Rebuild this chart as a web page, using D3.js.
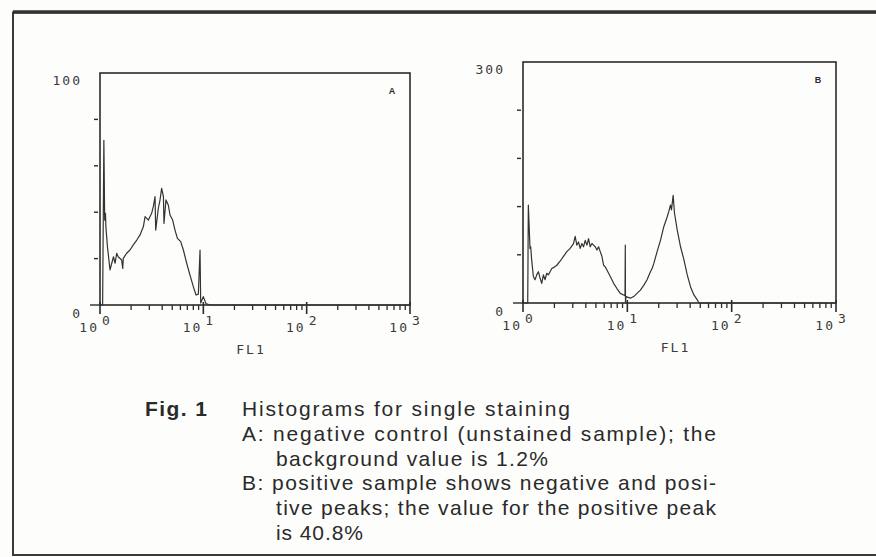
<!DOCTYPE html>
<html>
<head>
<meta charset="utf-8">
<script src="https://cdn.jsdelivr.net/npm/d3@7"></script>
<style>
  body { margin: 0; background: #fdfdfc; }
  svg { display: block; }
</style>
</head>
<body>
<svg id="fig" width="876" height="557"></svg>
<script>
// FL1 (log, 10^0..10^3) and cell counts
var flA = [1.0, 1.06, 1.09, 1.11, 1.13, 1.14, 1.18, 1.20, 1.25, 1.30, 1.35, 1.40, 1.45, 1.50,
  1.62, 1.66, 1.68, 1.81, 1.95, 2.10, 2.27, 2.44, 2.63, 2.73, 2.94, 3.16, 3.28, 3.41, 3.46,
  3.67, 3.81, 3.95, 4.11, 4.16, 4.35, 4.58, 4.76, 5.05, 5.32, 5.61, 6.04, 6.41, 6.90, 7.43,
  8.00, 8.50, 8.95, 9.29, 9.43, 10.0, 10.6, 11.6, 1000];
var countA = [0, 0, 71, 36.6, 39.5, 33.8, 25.1, 22.3, 15.1, 18.0, 20.8, 18.0, 22.3, 20.8,
  19.4, 15.8, 20.1, 22.3, 23.7, 25.9, 28.0, 30.2, 33.8, 38.1, 36.6, 39.5, 42.4, 46.7, 32.3,
  41.7, 45.3, 50.3, 46.7, 35.2, 45.3, 43.1, 38.8, 36.6, 32.3, 28.7, 27.3, 23.7, 18.0, 12.9,
  7.9, 4.3, 4.7, 23.7, 0.9, 3.6, 0.6, 0, 0];

var flB = [1.0, 1.11, 1.125, 1.167, 1.185, 1.21, 1.257, 1.305, 1.353, 1.404, 1.457, 1.512,
  1.569, 1.627, 1.689, 1.752, 1.818, 1.886, 1.957, 2.107, 2.269, 2.443, 2.630, 2.831, 3.048,
  3.162, 3.281, 3.405, 3.532, 3.666, 3.803, 3.947, 4.095, 4.249, 4.409, 4.575, 4.747, 4.925,
  5.110, 5.302, 5.501, 5.707, 5.922, 6.144, 6.375, 6.863, 7.388, 7.954, 8.563, 9.219, 9.50,
  9.56, 9.60, 9.70, 10.69, 11.51, 12.39, 13.34, 14.36, 15.46, 16.64, 17.27, 17.92, 19.29,
  20.77, 22.36, 24.07, 24.97, 25.91, 26.49, 27.49, 28.3, 30.06, 32.36, 34.84, 37.51, 40.37,
  43.46, 46.79, 48.55, 1000];
var countB = [0, 0, 122, 68, 70, 54, 33, 29, 35, 39, 31, 24.5,
  35, 29, 37, 35, 39, 43, 44, 47, 52, 58, 64, 68, 74,
  83, 72, 76, 68, 74, 70, 78, 72, 80, 70, 74, 72, 70,
  66, 70, 64, 58, 47, 45, 41, 33, 24.5, 18, 12, 10, 9,
  72, 0, 8, 6, 8, 12, 16, 22, 29, 39, 43, 49, 64,
  78, 95, 107, 114, 122, 116, 134, 112, 91, 70, 54, 35, 20,
  10, 4, 0, 0];

var yTicksA = [0, 20, 40, 60, 80, 100];
var yTicksB = [0, 60, 120, 180, 240, 300];
var panelNames = ['A', 'B'];
var axisTitle = 'FL1';

var captionHead = 'Fig. 1';
var captionLines = [
  'Histograms for single staining',
  'A: negative control (unstained sample); the',
  'background value is 1.2%',
  'B: positive sample shows negative and posi-',
  'tive peaks; the value for the positive peak',
  'is 40.8%'
];

var INK = '#2b2b2b';
var svg = d3.select('#fig');

// outer frame of the printed figure (open on the right)
svg.append('path')
  .attr('d', 'M876,12.5H13V555H876')
  .attr('fill', 'none')
  .attr('stroke', '#3a3a3a')
  .attr('stroke-width', 2);
svg.append('line')
  .attr('x1', 13).attr('x2', 876).attr('y1', 12).attr('y2', 12)
  .attr('stroke', '#333').attr('stroke-width', 3.5);

function drawPanel(box, fl, counts, yTicks, name) {
  var g = svg.append('g');
  var x = d3.scaleLog().domain([1, 1000]).range([box.left, box.right]);
  var y = d3.scaleLinear().domain([0, yTicks[yTicks.length - 1]]).range([box.bottom, box.top]);

  g.append('rect')
    .attr('x', box.left).attr('y', box.top)
    .attr('width', box.right - box.left).attr('height', box.bottom - box.top)
    .attr('fill', 'none').attr('stroke', INK).attr('stroke-width', 1.6);

  // x ticks: minor ticks hang below, decade ticks cross the axis
  x.ticks().forEach(function (t) {
    var major = Math.abs(Math.log10(t) - Math.round(Math.log10(t))) < 1e-9;
    g.append('line')
      .attr('x1', x(t)).attr('x2', x(t))
      .attr('y1', major ? box.bottom - 3 : box.bottom)
      .attr('y2', major ? box.bottom + 9 : box.bottom + 5)
      .attr('stroke', INK).attr('stroke-width', major ? 1.6 : 1.3);
    if (major) {
      g.append('text')
        .attr('x', x(t) - 1).attr('y', box.bottom + 27)
        .attr('text-anchor', 'end')
        .attr('class', 'plot')
        .text('10');
      g.append('text')
        .attr('x', x(t) + 2).attr('y', box.bottom + 20)
        .attr('class', 'plot')
        .text(Math.round(Math.log10(t)));
    }
  });

  // y ticks
  yTicks.forEach(function (t, i) {
    if (i == yTicks.length - 1) return;
    g.append('line')
      .attr('x1', i == 0 ? box.left - 10 : box.left - 6).attr('x2', box.left - (i == 0 ? 0 : 2))
      .attr('y1', y(t)).attr('y2', y(t))
      .attr('stroke', INK).attr('stroke-width', 1.4);
  });
  g.append('text')
    .attr('x', box.left - 18).attr('y', box.top + 12)
    .attr('text-anchor', 'end').attr('class', 'plot')
    .text(yTicks[yTicks.length - 1]);
  g.append('text')
    .attr('x', box.left - 18).attr('y', box.bottom + 13)
    .attr('text-anchor', 'end').attr('class', 'plot')
    .text(yTicks[0]);

  g.append('text')
    .attr('x', box.right - 18).attr('y', box.top + 21)
    .attr('text-anchor', 'middle')
    .attr('font-family', 'Liberation Sans, sans-serif')
    .attr('font-weight', 'bold').attr('font-size', 9).attr('fill', INK)
    .text(name);

  g.append('text')
    .attr('x', (box.left + box.right) / 2 - 4).attr('y', box.bottom + 49)
    .attr('text-anchor', 'middle').attr('class', 'plot')
    .text(axisTitle);

  // the histogram trace
  var line = d3.line()
    .x(function (d) { return x(d[0]); })
    .y(function (d) { return y(d[1]); });
  g.append('path')
    .attr('d', line(d3.zip(fl, counts)))
    .attr('fill', 'none')
    .attr('stroke', '#333')
    .attr('stroke-width', 1.2)
    .attr('stroke-linejoin', 'round');
}

drawPanel({ left: 100, right: 410, top: 73, bottom: 305 }, flA, countA, yTicksA, panelNames[0]);
drawPanel({ left: 523, right: 836, top: 62, bottom: 303 }, flB, countB, yTicksB, panelNames[1]);

svg.selectAll('text.plot')
  .attr('font-family', 'DejaVu Sans Mono, monospace')
  .attr('font-size', 13)
  .attr('letter-spacing', 2)
  .attr('fill', '#3a3a3a');

// caption
var cap = svg.append('g')
  .attr('font-family', 'Liberation Sans, Arial, sans-serif')
  .attr('font-size', 21)
  .attr('fill', '#2a2a2a');
cap.append('text')
  .attr('x', 145).attr('y', 416)
  .attr('font-weight', 'bold')
  .attr('textLength', 62)
  .attr('lengthAdjust', 'spacing')
  .text(captionHead);

var capX = [242, 242, 276, 242, 276, 276];
var capW = [328, 474, 272, 474, 440, 87];
captionLines.forEach(function (s, i) {
  cap.append('text')
    .attr('x', capX[i]).attr('y', 416 + i * 24.8)
    .attr('textLength', capW[i])
    .attr('lengthAdjust', 'spacing')
    .text(s);
});
</script>
</body>
</html>
